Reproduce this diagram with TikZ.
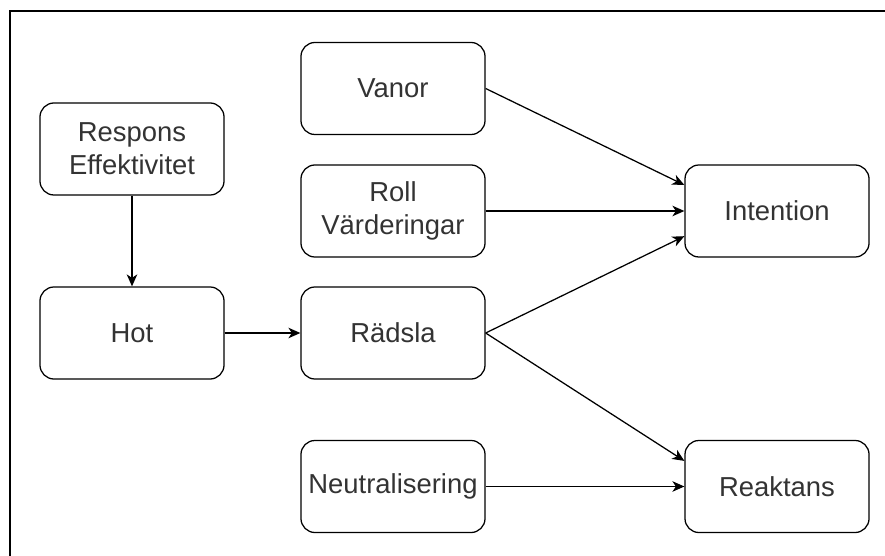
\documentclass[tikz,border=0pt]{standalone}
\usepackage{fontspec}
\setmainfont{Liberation Sans}
\usepackage{tikz}
\usetikzlibrary{arrows.meta,positioning,calc}

\tikzset{
  factor/.style={draw=black, line width=0.9pt, rounded corners=0.35cm,
    minimum width=4.6cm, minimum height=2.3cm, align=center, inner sep=1pt,
    text=black!80, font=\fontsize{19.5}{23.5}\selectfont},
  link/.style={-{Stealth[length=8.5pt,width=7.5pt,inset=2.5pt]}, line width=0.9pt}
}

\begin{document}
\begin{tikzpicture}[x=0.025cm, y=-0.025cm]
\useasboundingbox (0,0) rectangle (885,556);
% Frame
\draw[line width=1.3pt] (10,556) -- (10,11) -- (885,11);
% Left column
\node[factor] (respons) at (132,149) {Respons\\Effektivitet};
\node[factor] (hot) at (132,333) {Hot};
% Middle column
\node[factor] (vanor) at (393,88.5) {Vanor};
\node[factor] (roll) at (393,211) {Roll\\Värderingar};
\node[factor] (radsla) at (393,333) {Rädsla};
\node[factor] (neutral) at (393,486.5) {Neutralisering};
% Right column
\node[factor] (intention) at (777,211) {Intention};
\node[factor] (reaktans) at (777,486.5) {Reaktans};
% Links
\draw[link] (respons) -- (hot);
\draw[link] (hot) -- (radsla);
\draw[link] (vanor.east) -- ([yshift=0.65cm]intention.west);
\draw[link] (roll) -- (intention);
\draw[link] (radsla.east) -- ([yshift=-0.63cm]intention.west);
\draw[link] (radsla.east) -- ([yshift=0.64cm]reaktans.west);
\draw[link] (neutral) -- (reaktans);
\end{tikzpicture}
\end{document}
